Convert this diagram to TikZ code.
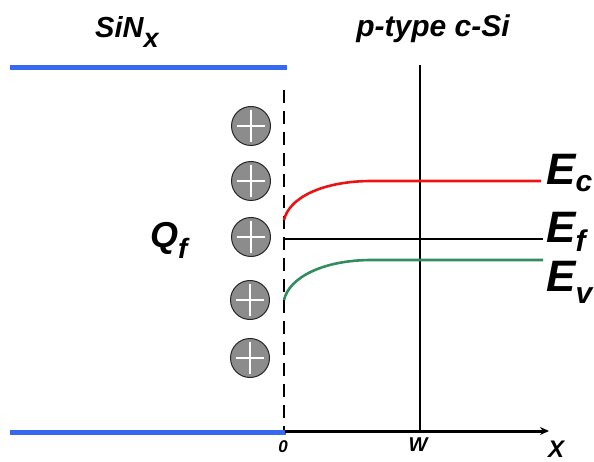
\documentclass[tikz,border=0pt]{standalone}
\usepackage{fontspec}
\setmainfont{Liberation Sans}
\usetikzlibrary{arrows.meta}
\definecolor{bluel}{RGB}{55,105,240}
\definecolor{redc}{RGB}{235,20,20}
\definecolor{greenc}{RGB}{50,140,95}
\definecolor{chargegray}{RGB}{140,140,140}
\tikzset{
  lbl/.style={inner sep=0pt, anchor=base west, font=\bfseries\itshape},
  charge/.style={circle, draw=black!85, line width=1pt, fill=chargegray, minimum size=39pt, inner sep=0pt},
  plus/.style={white, line width=2.6pt},
  blueline/.style={bluel, line width=5pt},
  band/.style={line width=2.6pt},
}
\newcommand{\fsz}[1]{\fontsize{#1}{#1}\selectfont}
\begin{document}
\begin{tikzpicture}[x=1pt,y=-1pt]
\useasboundingbox (0,0) rectangle (594,462);
% coordinates
\coordinate (tl) at (10,68);
\coordinate (tr) at (287,68);
\coordinate (bl) at (10,432);
\coordinate (br) at (286,432);
\coordinate (dtop) at (284,90);
\coordinate (dbot) at (284,430);
\coordinate (ax0) at (285,431);
\coordinate (axend) at (549,431);
\coordinate (wtop) at (420,65);
\coordinate (wbot) at (420,431);
\coordinate (c0) at (284,220);
\coordinate (c1) at (372,181);
\coordinate (c2) at (541,181);
\coordinate (f0) at (284,239);
\coordinate (f1) at (543,239);
\coordinate (v0) at (284,300);
\coordinate (v1) at (372,260);
\coordinate (v2) at (543,260);
% blue interface lines
\draw[blueline] (tl) -- (tr);
\draw[blueline] (bl) -- (br);
% dashed interface
\draw[line width=2pt, dash pattern=on 13pt off 8pt] (dtop) -- (dbot);
% W line
\draw[line width=1.2pt] (wtop) -- (wbot);
% x axis
\draw[line width=3pt, -{Stealth[length=9pt,width=8pt]}] (ax0) -- (axend);
% bands
\draw[band, redc] (c0) .. controls (289,198) and (322,181) .. (c1) -- (c2);
\draw[line width=1.2pt] (f0) -- (f1);
\draw[band, greenc] (v0) .. controls (289,278) and (322,260) .. (v1) -- (v2);
% charges
\foreach \n/\px/\py in {1/251/126, 2/251/181, 3/251/237, 4/250/300, 5/250/358}{
  \node[charge] (q\n) at (\px,\py) {};
  \draw[plus] ([xshift=-14pt]q\n.center) -- ([xshift=14pt]q\n.center);
  \draw[plus] ([yshift=-16pt]q\n.center) -- ([yshift=16pt]q\n.center);
}
% labels
\node[lbl, font=\bfseries\itshape\fsz{29}] (sin) at (95,38) {SiN\raisebox{-10pt}{\fsz{27}x}};
\node[lbl, anchor=base, font=\bfseries\itshape\fsz{30}] (psi) at (433,37) {p-type c-Si};
\node[lbl, font=\bfseries\itshape\fsz{36}] (qf) at (150,248) {Q\raisebox{-11pt}{\fsz{28}f}};
\node[lbl, font=\bfseries\itshape\fsz{44}] (ec) at (546,185) {E\raisebox{-7pt}{\fsz{30}c}};
\node[lbl, font=\bfseries\itshape\fsz{44}] (ef) at (546,243) {E\raisebox{-9pt}{\fsz{30}f}};
\node[lbl, font=\bfseries\itshape\fsz{44}] (ev) at (546,291) {E\raisebox{-12pt}{\fsz{30}v}};
\node[lbl, anchor=base, font=\bfseries\itshape\fsz{17}] (zero) at (283,452) {0};
\node[lbl, anchor=base, font=\bfseries\itshape\fsz{20}] (wl) at (418,451) {W};
\node[lbl, anchor=base, font=\bfseries\itshape\fsz{24}] (xl) at (556,457) {X};
\end{tikzpicture}
\end{document}
